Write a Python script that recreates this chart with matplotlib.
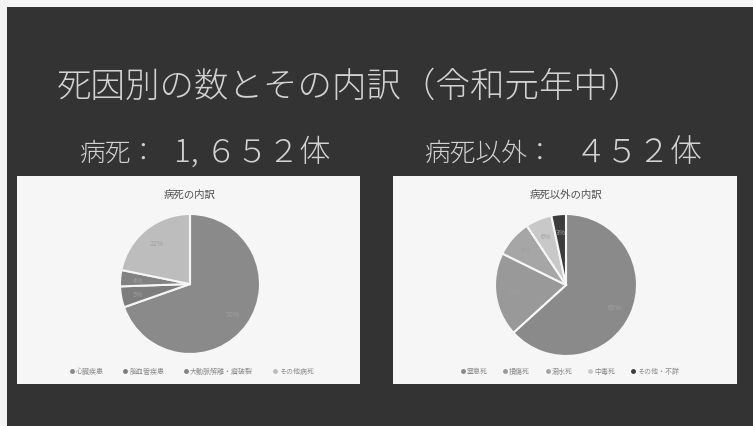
import matplotlib.pyplot as plt
from matplotlib.patches import Rectangle

plt.rcParams['font.family'] = ['Noto Sans CJK JP', 'DejaVu Sans']

W, H = 753, 427

# 病死の内訳 (件数)
ill_labels = ['心臓疾患', '脳血管疾患', '大動脈解離・瘤破裂', 'その他病死']
ill_counts = [1150, 80, 62, 360]
ill_colors = ['#8a8a8a', '#7d7d7d', '#828282', '#bdbdbd']

# 病死以外の内訳 (件数)
other_labels = ['窒息死', '損傷死', '溺水死', '中毒死', 'その他・不詳']
other_counts = [286, 86, 38, 27, 15]
other_colors = ['#8a8a8a', '#999999', '#a6a6a6', '#c8c8c8', '#3c3c3c']

title = '死因別の数とその内訳（令和元年中）'
ill_head, ill_total = '病死：', '1, ６５２体'
other_head, other_total = '病死以外：', '４５２体'

fig = plt.figure(figsize=(W / 100, H / 100), dpi=100)
fig.patch.set_facecolor('#333333')


def px_rect(x0, y0, x1, y1):
    return [x0 / W, 1 - y1 / H, (x1 - x0) / W, (y1 - y0) / H]


def px_text(x, y, s, **kw):
    return fig.text(x / W, 1 - y / H, s, **kw)


# light strips along the top and left edge
fig.patches.append(Rectangle((0, 1 - 8 / H), 1, 8 / H, transform=fig.transFigure,
                             facecolor='#f4f4f4', edgecolor='none'))
fig.patches.append(Rectangle((0, 0), 7 / W, 1, transform=fig.transFigure,
                             facecolor='#f4f4f4', edgecolor='none'))

txt = dict(color='#d2d2d2', va='center', ha='left', fontweight='light')
px_text(57, 87, title, fontsize=24.8, **txt)
px_text(79, 153, ill_head, fontsize=18.5, **txt)
px_text(174, 153, ill_total, fontsize=22.5, **txt)
px_text(424, 153, other_head, fontsize=18.5, **txt)
px_text(575, 153, other_total, fontsize=23, **txt)


def chart_panel(box, center, radius, name, labels, counts, colors, legend_x, colsp):
    x0, y0, x1, y1 = box
    bg = fig.add_axes(px_rect(x0, y0, x1, y1))
    bg.set_facecolor('#f6f6f6')
    bg.set_xticks([])
    bg.set_yticks([])
    for s in bg.spines.values():
        s.set_visible(False)

    cx, cy = center
    ax = fig.add_axes(px_rect(cx - radius, cy - radius, cx + radius, cy + radius))
    ax.pie(counts, colors=colors, startangle=90, counterclock=False,
           autopct='%1.0f%%', pctdistance=0.75,
           wedgeprops=dict(edgecolor='#f6f6f6', linewidth=1.5),
           textprops=dict(fontsize=5, color='#a0a0a0'))
    ax.set_xlim(-1, 1)
    ax.set_ylim(-1, 1)
    ax.set_aspect('equal')
    ax.axis('off')

    px_text(cx, 195, name, color='#505050', fontsize=7.5, ha='center', va='center')

    handles = [plt.Line2D([], [], marker='o', linestyle='none', markersize=2.5,
                          markerfacecolor=c, markeredgecolor=c) for c in colors]
    fig.legend(handles, labels, loc='center', ncol=len(labels),
               bbox_to_anchor=(legend_x / W, 1 - 372 / H), frameon=False,
               fontsize=5, labelcolor='#8a8a8a', handletextpad=0.1,
               columnspacing=colsp, handlelength=1)


chart_panel((17, 177, 360, 385), (190, 285), 70, '病死の内訳',
            ill_labels, ill_counts, ill_colors, 191, 2.6)
chart_panel((393, 177, 737, 385), (566, 286), 71, '病死以外の内訳',
            other_labels, other_counts, other_colors, 569, 2.0)

fig.savefig('out.png', dpi=100, facecolor=fig.get_facecolor())
